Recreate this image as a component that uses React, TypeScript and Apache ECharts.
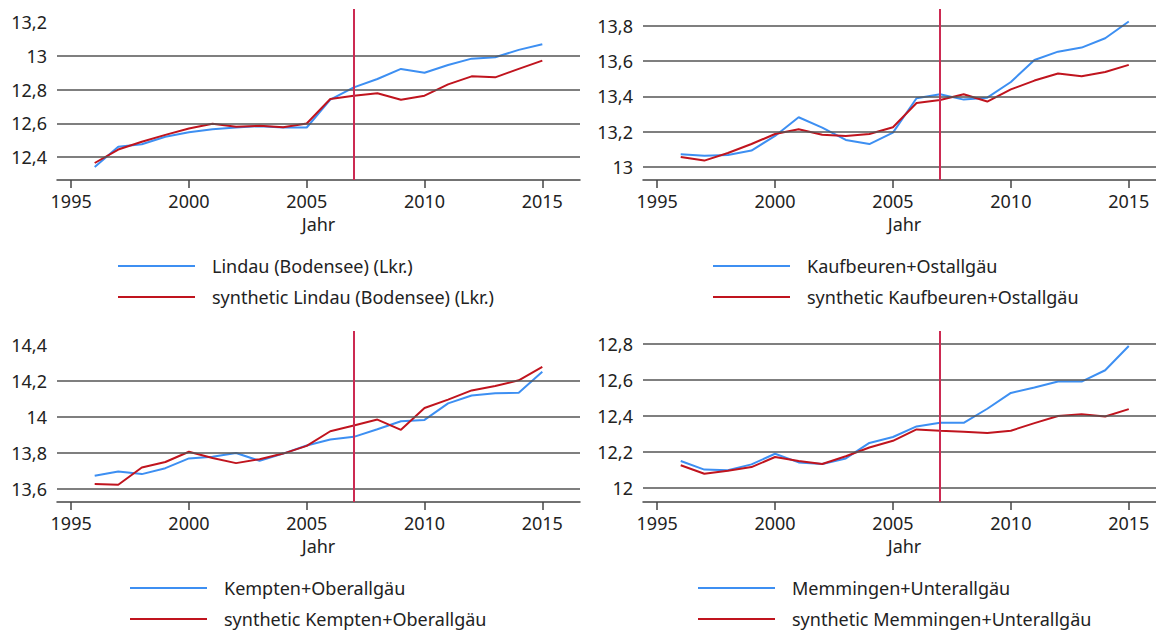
import React, { useEffect, useRef } from "react";
import * as echarts from "echarts";

const years = [1996, 1997, 1998, 1999, 2000, 2001, 2002, 2003, 2004, 2005, 2006, 2007, 2008, 2009, 2010, 2011, 2012, 2013, 2014, 2015];
const xTicks = [1995, 2000, 2005, 2010, 2015];
const treatmentYear = 2007;

const lindau = [12.34, 12.46, 12.475, 12.52, 12.547, 12.565, 12.575, 12.583, 12.575, 12.575, 12.74, 12.813, 12.863, 12.923, 12.9, 12.946, 12.984, 12.992, 13.036, 13.07];
const synthLindau = [12.364, 12.444, 12.49, 12.531, 12.569, 12.597, 12.579, 12.585, 12.577, 12.599, 12.744, 12.764, 12.778, 12.74, 12.764, 12.831, 12.879, 12.873, 12.923, 12.972];

const kaufbeuren = [13.072, 13.064, 13.068, 13.093, 13.176, 13.282, 13.223, 13.153, 13.13, 13.195, 13.39, 13.412, 13.382, 13.393, 13.482, 13.607, 13.654, 13.677, 13.73, 13.825];
const synthKaufbeuren = [13.057, 13.036, 13.079, 13.13, 13.187, 13.214, 13.183, 13.176, 13.187, 13.225, 13.363, 13.38, 13.412, 13.371, 13.44, 13.49, 13.53, 13.514, 13.539, 13.579];

const kempten = [13.674, 13.698, 13.683, 13.716, 13.77, 13.779, 13.8, 13.757, 13.797, 13.842, 13.875, 13.89, 13.932, 13.977, 13.984, 14.076, 14.12, 14.132, 14.135, 14.252];
const synthKempten = [13.628, 13.624, 13.72, 13.75, 13.807, 13.772, 13.744, 13.766, 13.797, 13.84, 13.921, 13.953, 13.986, 13.929, 14.05, 14.097, 14.148, 14.172, 14.204, 14.279];

const memmingen = [12.15, 12.102, 12.098, 12.131, 12.19, 12.142, 12.133, 12.164, 12.25, 12.283, 12.342, 12.362, 12.362, 12.44, 12.528, 12.558, 12.591, 12.591, 12.654, 12.789];
const synthMemmingen = [12.126, 12.079, 12.096, 12.116, 12.172, 12.15, 12.133, 12.176, 12.225, 12.262, 12.325, 12.318, 12.312, 12.305, 12.318, 12.36, 12.4, 12.41, 12.397, 12.438];

const names = ["Lindau (Bodensee) (Lkr.)", "Kaufbeuren+Ostallgäu", "Kempten+Oberallgäu", "Memmingen+Unterallgäu"];
const actualSeries = [lindau, kaufbeuren, kempten, memmingen];
const synthSeries = [synthLindau, synthKaufbeuren, synthKempten, synthMemmingen];
const yTickLabels = [
  [12.4, 12.6, 12.8, 13, 13.2],
  [13, 13.2, 13.4, 13.6, 13.8],
  [13.6, 13.8, 14, 14.2, 14.4],
  [12, 12.2, 12.4, 12.6, 12.8],
];
const yGridValues = [
  [12.4, 12.6, 12.8, 13],
  [13, 13.2, 13.4, 13.6, 13.8],
  [13.6, 13.8, 14, 14.2],
  [12, 12.2, 12.4, 12.6, 12.8],
];
const yRanges = [
  [12.263, 13.279],
  [12.926, 13.896],
  [13.528, 14.478],
  [11.922, 12.872],
];

const BLUE = "#3d8ff2";
const RED = "#c0141e";
const VLINE = "#cc2a52";
const FONT = "Noto Sans";

const layout = [
  { left: 57, top: 9, height: 171, width: 523, xMax: 2016.6, nameShift: 0, legendLeft: 118, legendTop: 255 },
  { left: 643, top: 9, height: 171, width: 513, xMax: 2016.155, nameShift: 10, legendLeft: 713, legendTop: 255 },
  { left: 57, top: 331, height: 171, width: 523, xMax: 2016.6, nameShift: 0, legendLeft: 130, legendTop: 577 },
  { left: 643, top: 331, height: 171, width: 513, xMax: 2016.155, nameShift: 10, legendLeft: 698, legendTop: 577 },
];

export default function App() {
  const ref = useRef<HTMLDivElement>(null);
  useEffect(() => {
    if (!ref.current) return;
    const chart = echarts.init(ref.current, undefined, { renderer: "svg" });
    const grids: any[] = [];
    const xAxes: any[] = [];
    const yAxes: any[] = [];
    const series: any[] = [];
    const legends: any[] = [];
    const fmt = (v: number) => String(Math.round(v * 10) / 10).replace(".", ",");
    for (let i = 0; i < 4; i++) {
      const L = layout[i];
      grids.push({ left: L.left, top: L.top, width: L.width, height: L.height });
      xAxes.push({
        type: "value",
        gridIndex: i,
        min: 1994.4,
        max: L.xMax,
        name: "Jahr",
        nameLocation: "middle",
        nameGap: 35,
        nameTextStyle: { fontFamily: FONT, fontSize: 18, color: "#222", padding: [0, 0, 0, L.nameShift] },
        axisLine: { show: true, lineStyle: { color: "#444", width: 1.5 } },
        axisTick: { show: true, length: 8, customValues: xTicks, lineStyle: { color: "#444", width: 1.5 } },
        axisLabel: { customValues: xTicks, fontFamily: FONT, fontSize: 18, color: "#222", margin: 12, formatter: (v: number) => String(v) },
        splitLine: { show: false },
      });
      yAxes.push({
        type: "value",
        gridIndex: i,
        min: yRanges[i][0],
        max: yRanges[i][1],
        axisLine: { show: false },
        axisTick: { show: false },
        splitLine: { show: false },
        axisLabel: { customValues: yTickLabels[i], fontFamily: FONT, fontSize: 18, color: "#222", margin: 10, formatter: fmt },
      });
      series.push({
        type: "line",
        name: "__grid" + i,
        xAxisIndex: i,
        yAxisIndex: i,
        data: [],
        z: 1,
        silent: true,
        markLine: {
          silent: true,
          symbol: ["none", "none"],
          label: { show: false },
          lineStyle: { color: "#555", width: 1.5, type: "solid" },
          data: yGridValues[i].map((v) => ({ yAxis: v })),
        },
      });
      series.push({
        type: "line",
        name: names[i],
        xAxisIndex: i,
        yAxisIndex: i,
        data: years.map((y, k) => [y, actualSeries[i][k]]),
        symbol: "none",
        lineStyle: { color: BLUE, width: 2 },
        itemStyle: { color: BLUE },
        z: 3,
      });
      series.push({
        type: "line",
        name: "synthetic " + names[i],
        xAxisIndex: i,
        yAxisIndex: i,
        data: years.map((y, k) => [y, synthSeries[i][k]]),
        symbol: "none",
        lineStyle: { color: RED, width: 2 },
        itemStyle: { color: RED },
        z: 3,
        markLine: {
          silent: true,
          symbol: ["none", "none"],
          label: { show: false },
          lineStyle: { color: VLINE, width: 2, type: "solid" },
          data: [{ xAxis: treatmentYear }],
        },
      });
      legends.push({
        data: [names[i], "synthetic " + names[i]],
        orient: "vertical",
        left: L.legendLeft,
        top: L.legendTop,
        padding: 0,
        icon: "rect",
        itemWidth: 77,
        itemHeight: 2,
        itemGap: 9,
        selectedMode: false,
        textStyle: { fontFamily: FONT, fontSize: 18, color: "#222", lineHeight: 22, padding: [0, 0, 0, 12] },
      });
    }
    chart.setOption({
      animation: false,
      backgroundColor: "#fff",
      grid: grids,
      xAxis: xAxes,
      yAxis: yAxes,
      series,
      legend: legends,
    });
    return () => chart.dispose();
  }, []);
  return <div ref={ref} style={{ position: "fixed", left: 0, top: 0, width: 1156, height: 631 }} />;
}
